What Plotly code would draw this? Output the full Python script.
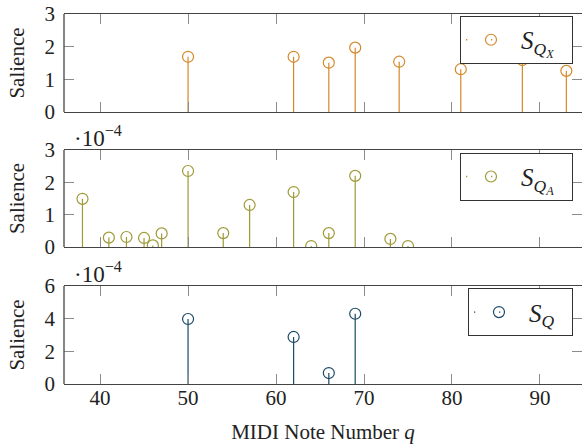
import plotly.graph_objects as go
from plotly.subplots import make_subplots

# ---- data ----
qx_notes = [50, 62, 66, 69, 74, 81, 88, 93]
qx_vals = [1.69, 1.69, 1.51, 1.97, 1.54, 1.31, 1.59, 1.26]

qa_notes = [38, 41, 43, 45, 46, 47, 50, 54, 57, 62, 64, 66, 69, 73, 75]
qa_vals_e4 = [1.49, 0.29, 0.31, 0.28, 0.05, 0.42, 2.35, 0.43, 1.30, 1.70, 0.03, 0.43, 2.20, 0.25, 0.03]

q_notes = [50, 62, 66, 69]
q_vals_e4 = [3.98, 2.88, 0.67, 4.30]

x_ticks = [40, 50, 60, 70, 80, 90]

C_X = "#D4882A"
C_A = "#9E9A36"
C_Q = "#1B4965"

FONT = "Liberation Serif"
PAD = "\u00a0\u00a0"

fig = make_subplots(rows=3, cols=1, shared_xaxes=False, vertical_spacing=0.1)

def stems(xs, ys):
    sx, sy = [], []
    for x, y in zip(xs, ys):
        sx += [x, x, None]
        sy += [0, y, None]
    return sx, sy

series = [
    (qx_notes, qx_vals, C_X, "<i>S</i><sub><i>Q</i><sub><i>X</i></sub></sub>" + PAD, "legend"),
    (qa_notes, qa_vals_e4, C_A, "<i>S</i><sub><i>Q</i><sub><i>A</i></sub></sub>" + PAD, "legend2"),
    (q_notes, q_vals_e4, C_Q, "<i>S</i><sub><i>Q</i></sub>" + PAD, "legend3"),
]

for i, (xs, ys, col, name, lg) in enumerate(series, start=1):
    sx, sy = stems(xs, ys)
    fig.add_trace(go.Scatter(x=sx, y=sy, mode="lines", line=dict(color=col, width=1.2),
                             showlegend=False, hoverinfo="skip"), row=i, col=1)
    fig.add_trace(go.Scatter(x=xs, y=ys, mode="markers", showlegend=False,
                             marker=dict(symbol="circle-open", size=11, color=col,
                                         line=dict(width=1.2, color=col))),
                  row=i, col=1)
    # legend-only entry (dotted comb glyph like the original)
    fig.add_trace(go.Scatter(x=[None], y=[None], mode="lines+markers", name=name, legend=lg,
                             line=dict(color=col, width=1.3, dash="1.3px,23.7px"),
                             marker=dict(symbol="circle-open", size=11, color=col,
                                         line=dict(width=1.2, color=col))),
                  row=i, col=1)

H = 370.0
doms = [[272 / H, 1.0], [137 / H, 234 / H], [0.0, 98 / H]]
yranges = [[0, 3], [0, 3], [0, 6]]
ydticks = [1, 1, 2]

for i in range(3):
    xa = "xaxis" if i == 0 else f"xaxis{i+1}"
    ya = "yaxis" if i == 0 else f"yaxis{i+1}"
    fig.layout[ya].update(domain=doms[i], range=yranges[i], dtick=ydticks[i], tick0=0,
                          ticks="inside", ticklen=10, tickcolor="#8c8c8c", tickwidth=1,
                          showline=False, mirror="ticks", showgrid=False, zeroline=False,
                          ticklabelstandoff=8, automargin=False,
                          tickfont=dict(family=FONT, size=21, color="#222"),
                          title=dict(text="Salience", font=dict(family=FONT, size=21, color="#222"),
                                     standoff=14))
    fig.layout[xa].update(range=[35.9, 94.78], tickvals=x_ticks, ticks="inside", ticklen=10,
                          tickcolor="#8c8c8c", tickwidth=1, showline=True, linecolor="#444",
                          linewidth=1.3, mirror="ticks", showgrid=False, zeroline=False,
                          showticklabels=(i == 2), ticklabelstandoff=-5, automargin=False,
                          tickfont=dict(family=FONT, size=21, color="#222"))
    xr = "x domain" if i == 0 else f"x{i+1} domain"
    yr = "y domain" if i == 0 else f"y{i+1} domain"
    fig.add_shape(type="line", xref=xr, yref=yr, x0=0, x1=0, y0=0, y1=1,
                  line=dict(color="#444", width=1.3))

fig.layout.xaxis3.title = dict(text="MIDI Note Number <i>q</i>",
                               font=dict(family=FONT, size=21, color="#222"), standoff=16)

for yr in ["y2 domain", "y3 domain"]:
    fig.add_annotation(text="·10<sup>−4</sup>", xref="paper", yref=yr, x=0.015, y=1.0,
                       xanchor="left", yanchor="bottom", showarrow=False, yshift=-3,
                       font=dict(family=FONT, size=23, color="#222"))

leg_common = dict(xanchor="right", yanchor="top", bgcolor="white", bordercolor="#333",
                  borderwidth=1, font=dict(family=FONT, size=25, color="#222"),
                  itemwidth=50, tracegroupgap=0)
fig.update_layout(
    legend=dict(x=0.9826, y=0.9946, **leg_common),
    legend2=dict(x=0.9826, y=0.625, **leg_common),
    legend3=dict(x=0.9826, y=0.2586, **leg_common),
)

fig.update_layout(width=582, height=444, margin=dict(l=64, r=0, t=14, b=60, autoexpand=False),
                  plot_bgcolor="white", paper_bgcolor="white")

fig.write_html("out.html", config={"displayModeBar": False},
               post_script="document.body.style.margin='0px';")
